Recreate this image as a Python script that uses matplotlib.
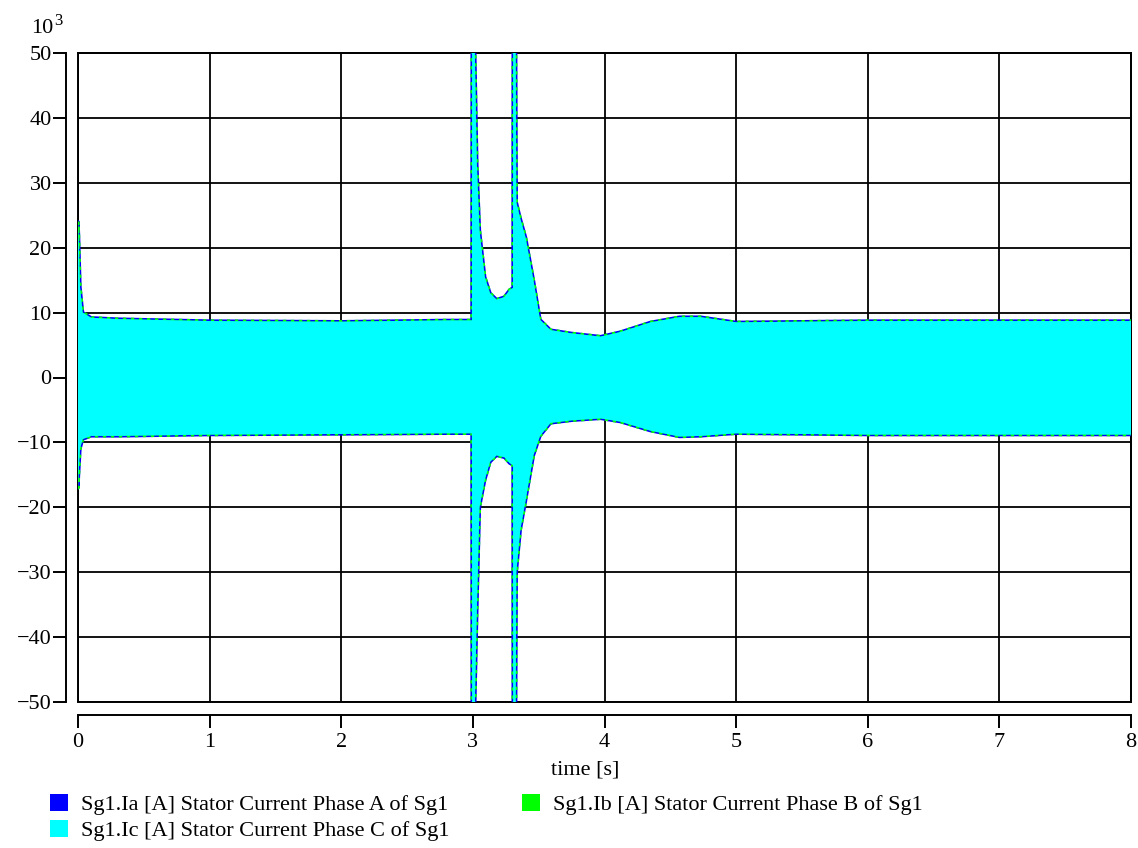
import matplotlib
matplotlib.use("Agg")
import matplotlib.pyplot as plt
from matplotlib.patches import Patch

# Envelope of the stator currents of Sg1 (values in kA, axis scaled by 10^3)
time_s = [0.0, 0.004, 0.015, 0.035, 0.1, 0.3, 1.0, 2.0, 2.8, 2.993,
          2.995, 3.013, 3.03, 3.05, 3.09, 3.13, 3.18, 3.24, 3.28, 3.305,
          3.307, 3.325, 3.33, 3.36, 3.40, 3.46, 3.51, 3.59, 3.75, 3.97,
          4.12, 4.35, 4.57, 4.73, 5.0, 6.0, 7.0, 8.0]
upper_ka = [24, 22, 14, 10, 9.2, 9.0, 8.7, 8.6, 8.8, 8.8,
            80, 52, 33, 22.7, 15.5, 13, 12, 12.4, 13.5, 13.8,
            80, 52, 27, 24.5, 21.6, 15, 8.9, 7.3, 6.8, 6.3,
            7.0, 8.5, 9.3, 9.3, 8.5, 8.7, 8.7, 8.7]
lower_ka = [-17, -15, -11, -9.5, -9.0, -9.0, -8.8, -8.7, -8.6, -8.6,
            -80, -52, -36, -20, -15.8, -13, -12, -12.3, -13.2, -13.5,
            -80, -52, -30, -23.5, -19, -12, -9, -7.0, -6.6, -6.3,
            -6.8, -8.2, -9.1, -9.0, -8.6, -8.8, -8.8, -8.8]

series_labels = ["Sg1.Ia [A] Stator Current Phase A of Sg1",
                 "Sg1.Ib [A] Stator Current Phase B of Sg1",
                 "Sg1.Ic [A] Stator Current Phase C of Sg1"]
series_colors = ["#0000ff", "#00ff00", "#00ffff"]
x_ticks = [0, 1, 2, 3, 4, 5, 6, 7, 8]
y_ticks = [-50, -40, -30, -20, -10, 0, 10, 20, 30, 40, 50]

plt.rcParams["font.family"] = ["Liberation Serif", "DejaVu Serif"]
FS = 16

W, H = 1138, 848
fig = plt.figure(figsize=(W / 100, H / 100), dpi=100)
ax = fig.add_axes([78 / W, 1 - 702 / H, (1131 - 78) / W, (702 - 53) / H])

# Phase A and B peek out around the edges, phase C drawn on top
ax.fill_between(time_s, lower_ka, upper_ka, facecolor=series_colors[0],
                edgecolor=series_colors[0], linewidth=2.4, zorder=3)
ax.fill_between(time_s, lower_ka, upper_ka, facecolor=series_colors[1],
                edgecolor=series_colors[1], linewidth=2.4,
                linestyle=(0, (1.0, 1.4)), zorder=4)
ax.fill_between(time_s, lower_ka, upper_ka, facecolor=series_colors[2],
                edgecolor="none", zorder=5)

ax.set_xlim(0, 8)
ax.set_ylim(-50, 50)
ax.set_xticks(x_ticks)
ax.set_yticks(y_ticks)
ax.grid(True, color="black", linewidth=1.3)
ax.set_axisbelow(True)

ax.patch.set_edgecolor("black")
ax.patch.set_linewidth(1.4)
for side in ("top", "right"):
    ax.spines[side].set_linewidth(1.4)
ax.spines["left"].set_position(("outward", 8.6))
ax.spines["bottom"].set_position(("outward", 9.4))
ax.spines["left"].set_linewidth(1.4)
ax.spines["bottom"].set_linewidth(1.4)

ax.tick_params(axis="y", direction="out", length=9.4, width=1.4, pad=1,
               labelsize=FS)
ax.tick_params(axis="x", direction="out", length=9.4, width=1.4, pad=3.5,
               labelsize=FS)

# Axis scale factor and label
fig.text(31 / W, 1 - 33 / H, "10", fontsize=FS, ha="left", va="baseline")
fig.text(54 / W, 1 - 25 / H, "3", fontsize=12, ha="left", va="baseline")
fig.text(585 / W, 1 - 770 / H, "time [s]", fontsize=FS, ha="center",
         va="center")

handles = [Patch(facecolor=c, edgecolor="none") for c in series_colors]
legend_kw = dict(loc="upper left", frameon=False, fontsize=FS, borderpad=0,
                 handlelength=0.81, handleheight=0.81, handletextpad=0.6,
                 labelspacing=0.2, borderaxespad=0)
leg1 = fig.legend([handles[0], handles[2]], [series_labels[0], series_labels[2]],
                  bbox_to_anchor=(50 / W, 1 - 794 / H), **legend_kw)
leg2 = fig.legend([handles[1]], [series_labels[1]],
                  bbox_to_anchor=(522 / W, 1 - 794 / H), **legend_kw)

fig.savefig("out.png", dpi=100)
